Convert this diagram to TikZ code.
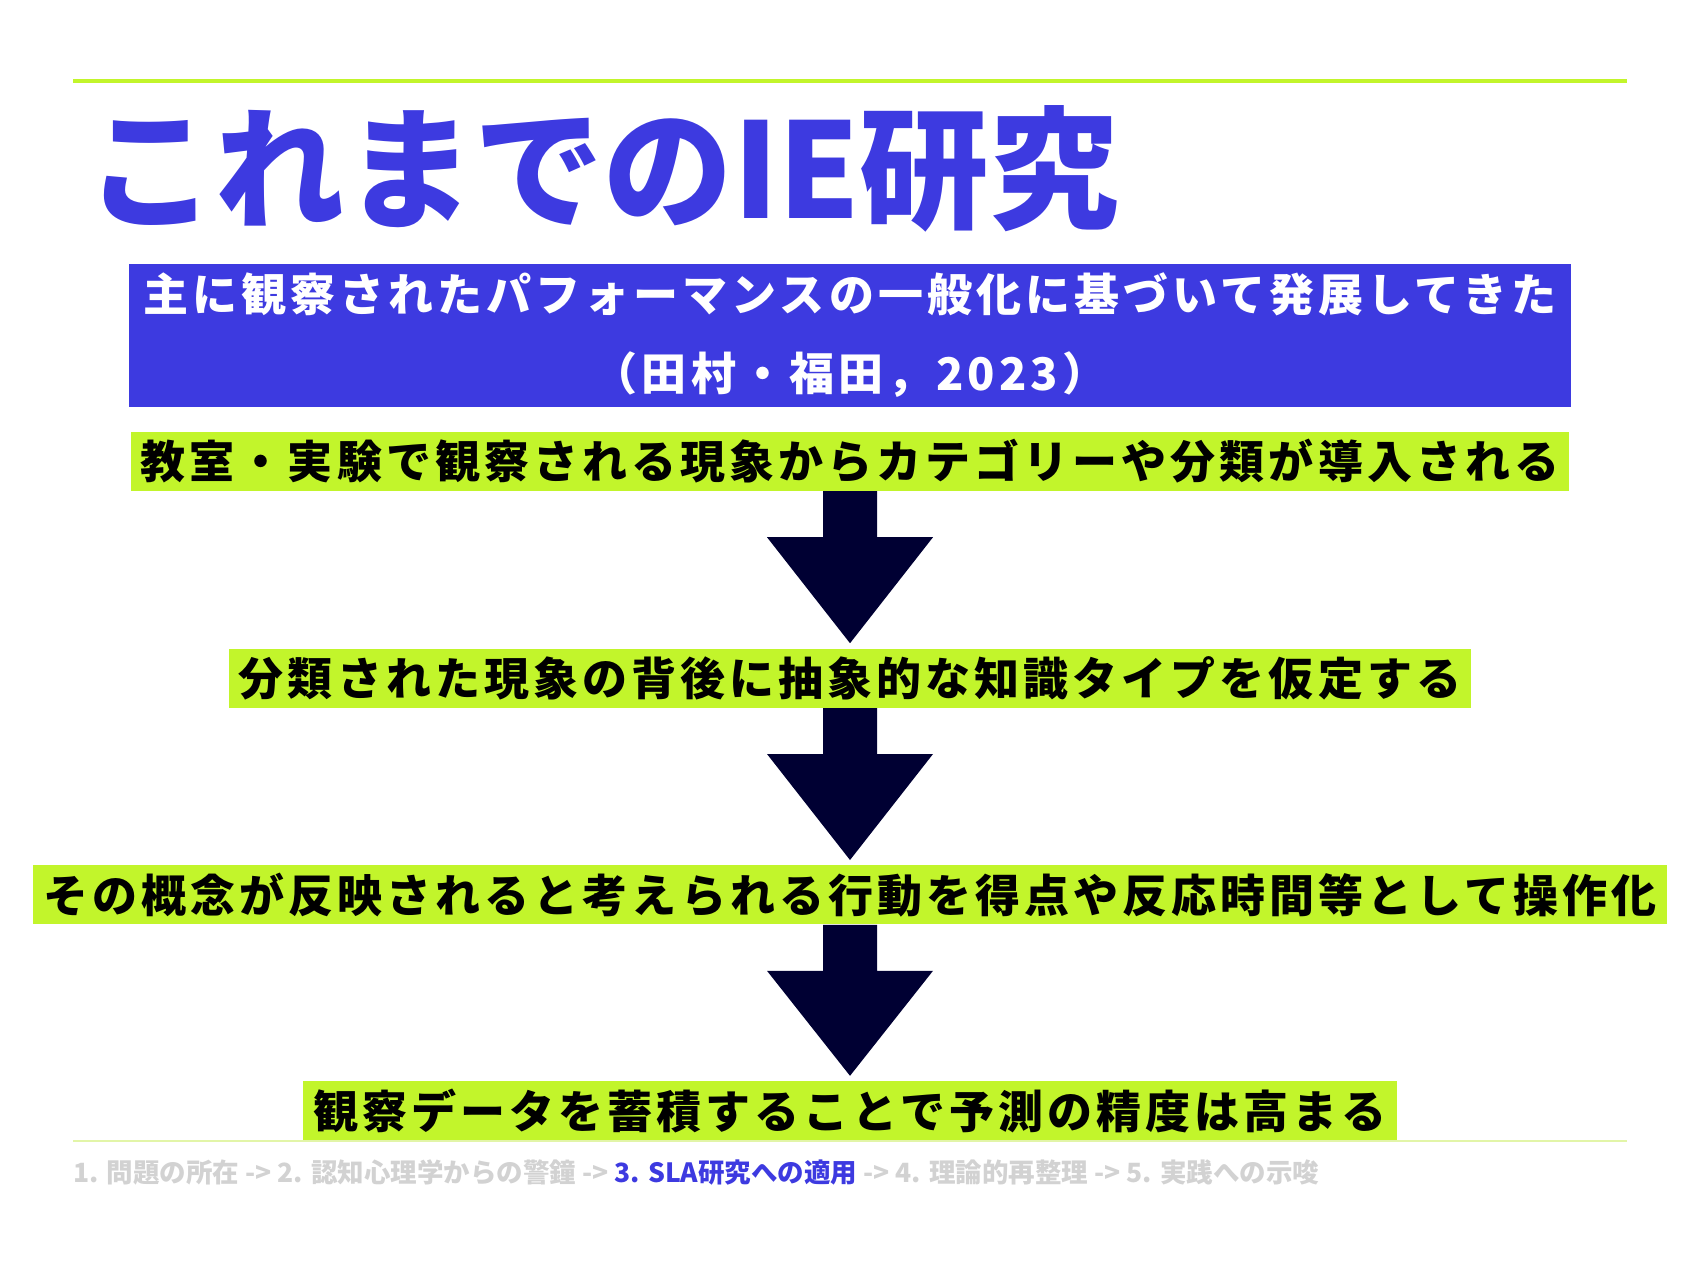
\documentclass[tikz,border=0pt]{standalone}
\usepackage{fontspec}
\setmainfont{Noto Sans CJK JP}
\newfontfamily\jpfont{Noto Sans CJK JP}[LetterSpace=9]
\newfontfamily\titlefont{Noto Sans CJK JP}[FakeStretch=0.98]
\newfontfamily\navfont{Noto Sans CJK JP}
\usetikzlibrary{positioning,calc}
\definecolor{ieblue}{HTML}{3D3AE0}
\definecolor{limegreen}{HTML}{C2F52B}
\definecolor{palelime}{HTML}{E2F5A8}
\definecolor{navyarrow}{HTML}{000033}
\definecolor{navgray}{HTML}{D2D2D2}

\begin{document}
\begin{tikzpicture}[x=0.5pt, y=-0.5pt,
    boxtext/.style={font=\jpfont\bfseries\fontsize{22.5}{39.5}\selectfont,
      inner xsep=5pt, inner ysep=0pt, align=center},
    greenbox/.style={boxtext, fill=limegreen, text=black, minimum height=29.5pt},
    bluebox/.style={boxtext, fill=ieblue, text=white, minimum width=721pt,
      minimum height=71.5pt},
    downarrow/.style={fill=navyarrow},
    toprule/.style={draw=limegreen, line width=2.25pt},
    footrule/.style={draw=palelime, line width=0.75pt}
  ]
    \useasboundingbox (0,0) rectangle (1701,1276);
    \draw[toprule] (73,81) -- (1627,81);
    \node[anchor=west, inner sep=0pt, text=ieblue,
      font=\titlefont\bfseries\fontsize{66}{70}\selectfont] (title) at (86,169) {これまでのIE研究};
    \node[bluebox] (src) at (850,335.5) {主に観察されたパフォーマンスの一般化に基づいて発展してきた\\（田村・福田，2023）};
    \node[greenbox, below=12pt of src] (obs) {教室・実験で観察される現象からカテゴリーや分類が導入される};
    \node[greenbox, below=78.5pt of obs] (hyp) {分類された現象の背後に抽象的な知識タイプを仮定する};
    \node[greenbox, below=78.5pt of hyp] (ops) {その概念が反映されると考えられる行動を得点や反応時間等として操作化};
    \node[greenbox, below=78pt of ops] (pred) {観察データを蓄積することで予測の精度は高まる};
    % block arrows between the steps
    \fill[downarrow] ($(obs.south)+(-27,0)$) -- ($(obs.south)+(27,0)$) -- ($(obs.south)+(27,46)$)
      -- ($(obs.south)+(83,46)$) -- ($(hyp.north)+(0,-5)$) -- ($(obs.south)+(-83,46)$)
      -- ($(obs.south)+(-27,46)$) -- cycle;
    \fill[downarrow] ($(hyp.south)+(-27,0)$) -- ($(hyp.south)+(27,0)$) -- ($(hyp.south)+(27,46)$)
      -- ($(hyp.south)+(83,46)$) -- ($(ops.north)+(0,-5)$) -- ($(hyp.south)+(-83,46)$)
      -- ($(hyp.south)+(-27,46)$) -- cycle;
    \fill[downarrow] ($(ops.south)+(-27,0)$) -- ($(ops.south)+(27,0)$) -- ($(ops.south)+(27,46)$)
      -- ($(ops.south)+(83,46)$) -- ($(pred.north)+(0,-5)$) -- ($(ops.south)+(-83,46)$)
      -- ($(ops.south)+(-27,46)$) -- cycle;
    \draw[footrule] (73,1141) -- (1627,1141);
    \node[anchor=west, inner sep=0pt, text=navgray,
      font=\navfont\bfseries\fontsize{13.25}{15}\selectfont] (nav) at (73,1172)
      {1. 問題の所在 -> 2. 認知心理学からの警鐘 -> \textcolor{ieblue}{3. SLA研究への適用} -> 4. 理論的再整理 -> 5. 実践への示唆};
  \end{tikzpicture}
\end{document}
